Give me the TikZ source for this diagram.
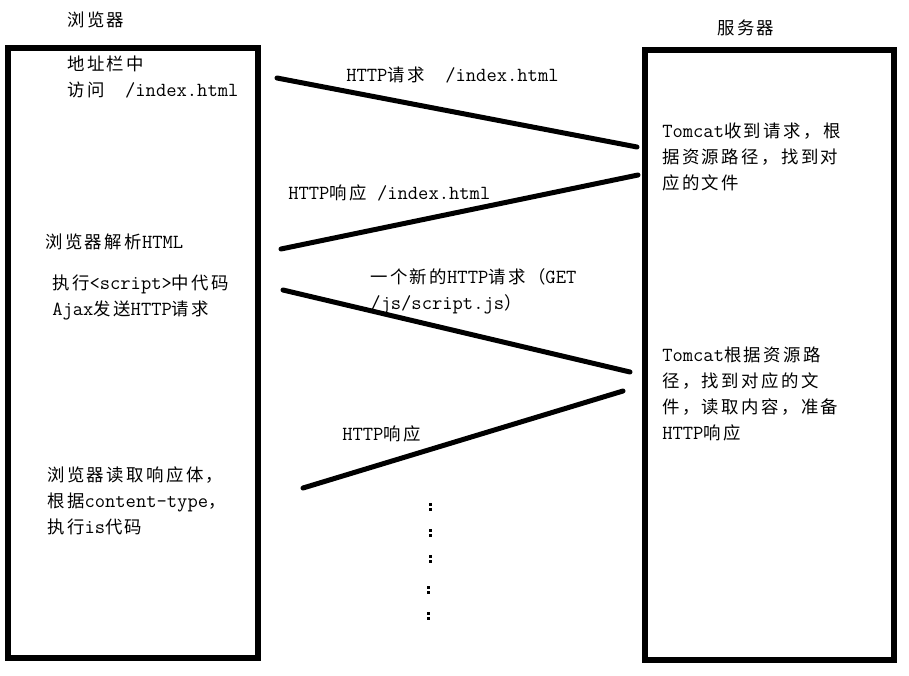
\documentclass[tikz,border=0pt]{standalone}
\usepackage{fontspec}
\newfontfamily\cjk[Scale=0.87, LetterSpace=14]{Noto Sans CJK SC}
\tikzset{
  box/.style={line width=4pt},
  msg/.style={line width=3.75pt, line cap=round},
  txt/.style={font=\ttfamily\fontsize{15}{19.5}\selectfont, align=left, inner sep=0pt},
}
\begin{document}
\begin{tikzpicture}[x=0.75pt, y=-0.75pt]
    \useasboundingbox (0,0) rectangle (909,675);
    % Boxes
    \draw [box] (8,48) rectangle (258,658); % browser
    \draw [box] (645,50) rectangle (894,660); % server
    \node [txt, anchor=west] (browser) at (67,20) {\cjk 浏览器};
    \node [txt, anchor=west] (server) at (717,28) {\cjk 服务器};
    % Browser side
    \node [txt, anchor=north west] (visit) at (67,56) {{\cjk 地址栏中}\\{\cjk 访问}\ \ /index.html};
    \node [txt, anchor=west] (parse) at (45,242) {{\cjk 浏览器解析}HTML};
    \node [txt, anchor=north west] (exec) at (52,275) {{\cjk 执行}<script>{\cjk 中代码}\\Ajax{\cjk 发送}HTTP{\cjk 请求}};
    \node [txt, anchor=north west] (read) at (47,466) {{\cjk 浏览器读取响应体，}\\{\cjk 根据}content-type{\cjk ，}\\{\cjk 执行}is{\cjk 代码}};
    % Server side
    \node [txt, anchor=north west] (find) at (662,123) {Tomcat{\cjk 收到请求，根}\\{\cjk 据资源路径，找到对}\\{\cjk 应的文件}};
    \node [txt, anchor=north west] (load) at (662,347) {Tomcat{\cjk 根据资源路}\\{\cjk 径，找到对应的文}\\{\cjk 件，读取内容，准备}\\HTTP{\cjk 响应}};
    % Coordinate
    \coordinate (req1a) at (277,78);
    \coordinate (req1b) at (637,147);
    \coordinate (res1a) at (638,175);
    \coordinate (res1b) at (281,249);
    \coordinate (req2a) at (283,290);
    \coordinate (req2b) at (630,372);
    \coordinate (res2a) at (623,391);
    \coordinate (res2b) at (303,488);
    % Linee
    \draw [msg] (req1a) -- (req1b);
    \draw [msg] (res1a) -- (res1b);
    \draw [msg] (req2a) -- (req2b);
    \draw [msg] (res2a) -- (res2b);
    % Labels
    \node [txt, anchor=west] (req1) at (346,75) {HTTP{\cjk 请求}\ \ /index.html};
    \node [txt, anchor=west] (res1) at (288,193) {HTTP{\cjk 响应}\ /index.html};
    \node [txt, anchor=north west] (req2) at (370,268) {{\cjk 一个新的}HTTP{\cjk 请求（}GET\\/js/script.js{\cjk ）}};
    \node [txt, anchor=west] (res2) at (342,434) {HTTP{\cjk 响应}};
    % Dots
    \foreach \x/\y in {430/507, 430/533, 430/559, 428/590, 428/616} {
        \fill (\x-1.5,\y-4) rectangle (\x+1.5,\y-1);
        \fill (\x-1.5,\y+1) rectangle (\x+1.5,\y+4);
    }
\end{tikzpicture}
\end{document}
